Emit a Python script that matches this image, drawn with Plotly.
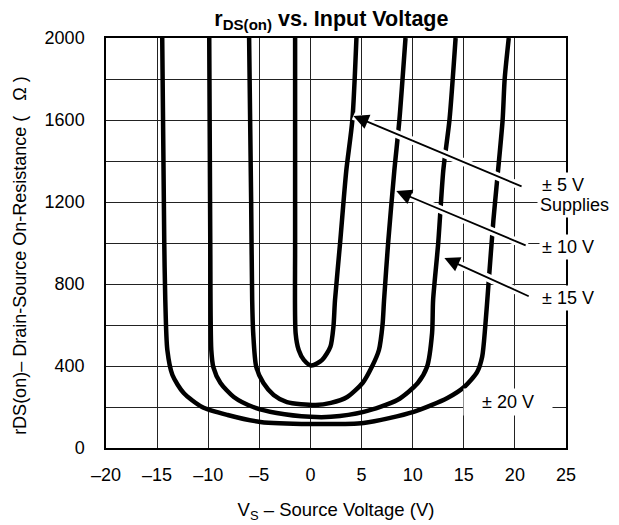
import plotly.graph_objects as go

# ---- data ----
x_5 = [-1.5, -1.5, -1.45, -1.15, -0.65, 0.1, 1.15, 1.95, 2.25, 2.4, 2.9, 3.5, 4.1, 4.5]
y_5 = [2000, 1000, 560, 478, 430, 402, 430, 494, 592, 720, 1000, 1350, 1600, 2000]

x_10 = [-6.0, -5.8, -5.7, -5.6, -5.3, -4.6, -3.6, -2.3, 0.5, 2.0, 3.6, 5.1, 6.0, 6.7, 7.05, 7.2, 7.6, 8.2, 8.7, 9.3]
y_10 = [2000, 1200, 722, 561, 395, 317, 259, 224, 210, 220, 249, 317, 395, 478, 600, 720, 1000, 1350, 1600, 2000]

x_15 = [-9.9, -9.8, -9.7, -9.5, -8.8, -7.5, -5.6, -3.3, 0.0, 2.0, 5.2, 8.5, 10.5, 11.4, 11.9, 12.0, 12.5, 13.0, 13.6, 14.2]
y_15 = [2000, 1000, 478, 395, 317, 249, 200, 171, 152, 152, 176, 234, 317, 395, 561, 722, 1000, 1356, 1600, 2000]

x_20 = [-14.5, -14.3, -14.2, -14.0, -13.5, -12.4, -10.6, -8.1, -4.9, 0.0, 5.2, 10.1, 13.4, 15.1, 16.3, 16.8, 17.1, 17.4, 17.9, 18.2, 18.8, 19.0, 19.4]
y_20 = [2000, 1000, 722, 478, 356, 268, 200, 161, 127, 117, 122, 176, 244, 300, 370, 445, 592, 787, 1112, 1273, 1600, 1800, 2000]

curves = [(x_5, y_5), (x_10, y_10), (x_15, y_15), (x_20, y_20)]

# arrows: tip and tail (data units)
arrow_tip_x = [4.2, 8.4, 13.1]
arrow_tip_y = [1620, 1254, 927]
arrow_tail_x = [20.8, 21.2, 21.5]
arrow_tail_y = [1273, 985, 737]

# labels
label_text = ["\u00b1 5 V", "Supplies", "\u00b1 10 V", "\u00b1 15 V"]
label_x = [22.4, 22.2, 22.4, 22.4]
label_y = [1283, 1185, 980, 732]
label20_text = "\u00a0\u00a0\u00a0\u00b1 20 V\u00a0\u00a0\u00a0"
label20_x = 19.3
label20_y = 224

x_tickvals = [-20, -15, -10, -5, 0, 5, 10, 15, 20, 25]
x_ticktext = ["\u201320", "\u201315", "\u201310", "\u20135", "0", "5", "10", "15", "20", "25"]
y_tickvals = [0, 400, 800, 1200, 1600, 2000]
y_ticktext = ["0", "400", "800", "1200", "1600", "2000"]
y_minor = [200, 600, 1000, 1400, 1800]

y_title = "rDS(on)\u2013 Drain-Source On-Resistance (\u00a0\u00a0\u00a0\u03a9\u00a0)"

FONT = "Liberation Sans, Arial, Helvetica, sans-serif"

# the page body has an 8px default margin; the figure is sized to fit the 619x525 window
W, H = 611, 517

fig = go.Figure()
for cx, cy in curves:
    fig.add_trace(go.Scatter(x=cx, y=cy, mode="lines",
                             line=dict(color="black", width=4.5, shape="spline", smoothing=0.7),
                             showlegend=False, hoverinfo="skip"))

shapes = []
annotations = []
for tx, ty, ax_, ay_ in zip(arrow_tip_x, arrow_tip_y, arrow_tail_x, arrow_tail_y):
    shapes.append(dict(type="line", xref="x", yref="y", x0=ax_, y0=ay_, x1=tx, y1=ty,
                       line=dict(color="white", width=8), layer="above"))
    annotations.append(dict(x=tx, y=ty, ax=ax_, ay=ay_, xref="x", yref="y", axref="x", ayref="y",
                            text="", showarrow=True, arrowhead=2, arrowsize=1.7, arrowwidth=1.8,
                            arrowcolor="black", standoff=0))

for t, lx, ly in zip(label_text, label_x, label_y):
    annotations.append(dict(x=lx, y=ly, xref="x", yref="y", text=t, showarrow=False,
                            xanchor="left", yanchor="middle", bgcolor="white", borderpad=2,
                            font=dict(size=18, color="black", family=FONT)))
annotations.append(dict(x=label20_x, y=label20_y, xref="x", yref="y", text=label20_text,
                        showarrow=False, xanchor="center", yanchor="middle", bgcolor="white",
                        borderpad=3, font=dict(size=18, color="black", family=FONT)))
# y-axis title
annotations.append(dict(x=-0.187, y=0.471, xref="paper", yref="paper", text=y_title,
                        textangle=-90, showarrow=False, xanchor="center", yanchor="middle",
                        font=dict(size=18, color="black", family=FONT)))

fig.update_layout(
    width=W, height=H,
    margin=dict(l=98, r=53, t=30, b=77, autoexpand=False),
    paper_bgcolor="white", plot_bgcolor="white",
    font=dict(family=FONT, size=18, color="black"),
    title=dict(text="<b>r<sub>DS(on)</sub> vs. Input Voltage</b>", x=0.49, xref="paper",
               xanchor="center", y=1 - 10 / H, yref="container", yanchor="middle",
               font=dict(size=21.5, family=FONT, color="black")),
    shapes=shapes, annotations=annotations,
)
fig.update_xaxes(range=[-20, 25], tickvals=x_tickvals, ticktext=x_ticktext, automargin=False,
                 showgrid=True, gridcolor="#222", gridwidth=1.2, zeroline=False,
                 showline=True, linecolor="black", linewidth=1.5, mirror=True,
                 ticks="", ticklabelstandoff=10, tickfont=dict(size=18),
                 title=dict(text="V<sub>S</sub> \u2013 Source Voltage (V)", standoff=19,
                            font=dict(size=18.5)))
fig.update_yaxes(range=[0, 2000], tickvals=y_tickvals, ticktext=y_ticktext, automargin=False,
                 showgrid=True, gridcolor="#222", gridwidth=1.2, zeroline=False,
                 minor=dict(tickvals=y_minor, showgrid=True,
                            gridcolor="#222", gridwidth=1.2, ticks=""),
                 showline=True, linecolor="black", linewidth=1.5, mirror=True,
                 ticks="", ticklabelstandoff=16, tickfont=dict(size=18))

fig.write_html("out.html")
